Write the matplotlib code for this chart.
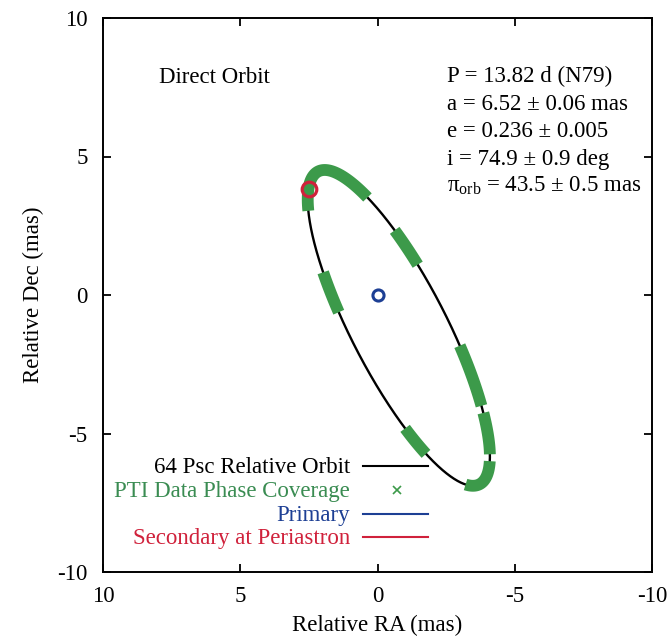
import numpy as np
import matplotlib
matplotlib.use("Agg")
import matplotlib.pyplot as plt

plt.rcParams['font.family'] = ['Liberation Serif', 'DejaVu Serif']
plt.rcParams['mathtext.fontset'] = 'custom'
plt.rcParams['mathtext.rm'] = 'Liberation Serif'
plt.rcParams['mathtext.it'] = 'Liberation Serif:italic'
plt.rcParams['axes.unicode_minus'] = False

# ---- data ----
ecc = 0.236
# Thiele-Innes constants of the plotted relative orbit (mas); Dec = A X + F Y, RA = B X + G Y
ti_A = 5.03
ti_B = 3.29
ti_F = -2.76
ti_G = 0.445
# PTI data phase coverage (orbital phase from periastron)
coverage_start = [-0.14, 0.09, 0.245, 0.38, 0.53, 0.61, 0.775]
coverage_end = [0.03, 0.125, 0.285, 0.515, 0.60, 0.685, 0.815]
primary_ra = [0.0]
primary_dec = [0.0]
tick_values = [-10, -5, 0, 5, 10]
info_lines = ["P = 13.82 d (N79)",
              "a = 6.52 \u00b1 0.06 mas",
              "e = 0.236 \u00b1 0.005",
              "i = 74.9 \u00b1 0.9 deg",
              "\u03c0$_{\\mathrm{orb}}$ = 43.5 \u00b1 0.5 mas"]
legend_labels = ["64 Psc Relative Orbit", "PTI Data Phase Coverage",
                 "Primary", "Secondary at Periastron"]

c_black = 'black'
c_green = '#3c9a4a'
c_green_txt = '#3a8c52'
c_blue = '#1d3f94'
c_red = '#d0213b'


def kepler_E(phase):
    M = 2 * np.pi * np.asarray(phase, dtype=float)
    E = M.copy()
    for _ in range(50):
        E = E - (E - ecc * np.sin(E) - M) / (1 - ecc * np.cos(E))
    return E


def orbit_xy(E):
    X = np.cos(E) - ecc
    Y = np.sqrt(1 - ecc ** 2) * np.sin(E)
    dec = ti_A * X + ti_F * Y
    ra = ti_B * X + ti_G * Y
    return ra, dec


fs = 16.5
fig = plt.figure(figsize=(6.71, 6.39), dpi=100)
ax = fig.add_axes([103 / 671, 1 - 572 / 639, 549 / 671, 554 / 639])

# orbit
E_all = np.linspace(0, 2 * np.pi, 1000)
ra_o, dec_o = orbit_xy(E_all)
ax.plot(ra_o, dec_o, color=c_black, lw=1.7, zorder=2)

# phase coverage
for s, e in zip(coverage_start, coverage_end):
    ph = np.linspace(s, e, 80)
    ra_c, dec_c = orbit_xy(kepler_E(ph))
    ax.plot(ra_c, dec_c, color=c_green, lw=8.5, solid_capstyle='butt', zorder=3)

# primary
ax.plot(primary_ra, primary_dec, 'o', mfc='none', mec=c_blue, ms=8, mew=2.2, zorder=4)
# secondary at periastron
ra_p, dec_p = orbit_xy(np.array([0.0]))
ax.plot(ra_p, dec_p, 'o', mfc='none', mec=c_red, ms=10.5, mew=2.3, zorder=5)

ax.set_xlim(10, -10)
ax.set_ylim(-10, 10)
ax.set_xticks(tick_values)
ax.set_yticks(tick_values)
ax.set_xticklabels([str(v) for v in tick_values])
ax.set_yticklabels([str(v) for v in tick_values])
ax.tick_params(direction='in', length=6, width=1.3, top=True, right=True,
               labelsize=fs)
ax.tick_params(axis='x', pad=10)
ax.tick_params(axis='y', pad=11)
for sp in ax.spines.values():
    sp.set_linewidth(1.4)

ax.set_xlabel("Relative RA (mas)", fontsize=fs)
ax.set_ylabel("Relative Dec (mas)", fontsize=fs)
ax.xaxis.set_label_coords(0.5, -0.078)
ax.yaxis.set_label_coords(-0.108, 0.5)


def fy(py):
    return (572 - py) / 554


def fx(px):
    return (px - 103) / 549


ax.text(fx(159), fy(83), "Direct Orbit", transform=ax.transAxes,
        ha='left', va='baseline', fontsize=fs)
for k, line in enumerate(info_lines):
    ax.text(fx(447), fy(82 + 27.5 * k), line, transform=ax.transAxes,
            ha='left', va='baseline', fontsize=fs)

# custom legend (text right-aligned, sample to the right)
leg_colors = [c_black, c_green_txt, c_blue, c_red]
baselines = [473, 497, 521, 544]
for k, (lab, col) in enumerate(zip(legend_labels, leg_colors)):
    ax.text(fx(350), fy(baselines[k]), lab, transform=ax.transAxes,
            ha='right', va='baseline', fontsize=fs, color=col)
    ys = fy(baselines[k] - 7)
    if k == 1:
        ax.plot([fx(397)], [ys], 'x', color=c_green, ms=6, mew=1.2,
                transform=ax.transAxes, clip_on=False)
    else:
        ax.plot([fx(363), fx(428)], [ys, ys], color=col, lw=1.5,
                transform=ax.transAxes, clip_on=False)

fig.savefig("out.png", dpi=100)
